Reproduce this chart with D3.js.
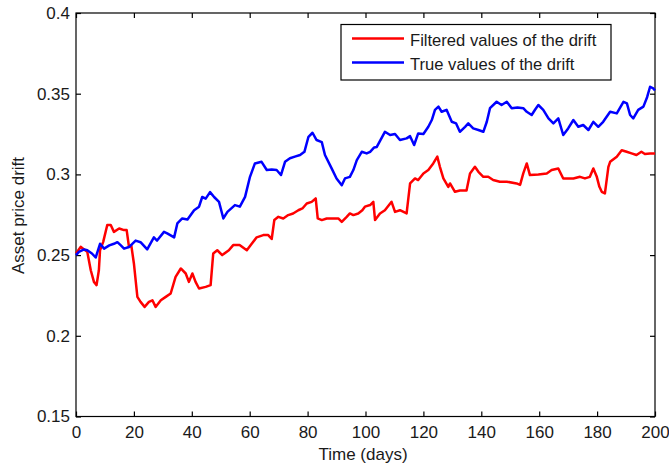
<!DOCTYPE html>
<html>
<head>
<meta charset="utf-8">
<script src="https://cdn.jsdelivr.net/npm/d3@7"></script>
<style>
  html, body { margin: 0; padding: 0; background: #fff; }
  svg { display: block; font-family: "Liberation Sans", Arial, sans-serif; }
</style>
</head>
<body>
<svg id="chart" width="669" height="470"></svg>
<script>
// ---- data ----
const xTicks = [0, 20, 40, 60, 80, 100, 120, 140, 160, 180, 200];
const yTicks = [0.15, 0.2, 0.25, 0.3, 0.35, 0.4];
const seriesNames = ["Filtered values of the drift", "True values of the drift"];
const xLabel = "Time (days)";
const yLabel = "Asset price drift";

const trueDays = [0,1,2.8,3.9,5.5,6.8,8.3,9.7,11.5,13.1,14.3,15.5,16.6,18.3,20.6,22.3,24.6,26.9,28,30.4,31.5,33.9,35,36.7,38.5,40.8,42.5,43.6,44.8,46.3,47.7,49.4,50.9,52.3,54.9,56.6,58.4,60.1,61.8,64.1,65.9,67.6,69.3,70.8,72.2,73.9,75.6,77.4,78.9,80.3,81.7,83.1,84.9,86,88.3,90,91.8,92.9,94.6,95.8,97,98.7,100.4,101.6,103,103.9,106.7,108.5,110.2,111.9,114.2,115.4,116.8,118.2,120,121.7,122.9,124,125.2,126.3,128,129.8,131.3,132.6,134.4,135.5,137.2,139,140.7,141.9,143,145.3,147,148.8,150.5,152.5,154.5,155.7,157.4,158.5,159.7,161.4,163.2,164.9,166.6,168.3,170,171.8,173.5,175.2,177,178.7,180.4,182.1,184.5,186.8,189.1,190.3,191.4,192.5,194.2,196,197.3,198.3,199.4,200];
const trueVals = [0.250,0.252,0.2535,0.253,0.251,0.2485,0.257,0.254,0.256,0.257,0.258,0.256,0.254,0.255,0.259,0.258,0.2535,0.261,0.259,0.2644,0.2635,0.261,0.2696,0.2727,0.272,0.2778,0.280,0.286,0.285,0.289,0.286,0.283,0.2727,0.2768,0.281,0.280,0.2861,0.2985,0.3068,0.3078,0.3027,0.303,0.3027,0.2996,0.3078,0.310,0.311,0.312,0.314,0.3233,0.3258,0.3213,0.320,0.312,0.3037,0.2975,0.2933,0.2975,0.2985,0.3027,0.3089,0.314,0.313,0.314,0.3167,0.317,0.3264,0.3244,0.325,0.3213,0.3223,0.3237,0.3182,0.3254,0.325,0.3295,0.3337,0.340,0.342,0.3388,0.340,0.3326,0.3316,0.3264,0.3295,0.3316,0.3285,0.3275,0.3264,0.3326,0.341,0.345,0.343,0.345,0.341,0.3415,0.341,0.3388,0.3368,0.3399,0.343,0.340,0.3347,0.3316,0.3347,0.3244,0.3285,0.3337,0.3295,0.3306,0.3275,0.3326,0.3295,0.3326,0.3388,0.3378,0.345,0.344,0.3368,0.3347,0.340,0.342,0.348,0.3543,0.3533,0.352];

const filtDays = [0,1.6,2.8,3.9,5.1,6.2,7.1,7.9,8.3,9.4,10.8,12,13.1,14.9,16.6,17.5,18.3,19.1,20,21.2,22.3,23.7,25.2,26.4,27.5,29.3,31,32.7,34.4,36.2,37.9,39,40.2,41.3,42.5,44.8,46.5,47.4,48.8,50.5,52.8,54.3,56.5,59,60.5,62.4,64.7,66.4,67.6,68.5,69.9,71.6,73.3,75,76.8,78.2,79.7,81.4,82.8,83.5,84.9,86.6,88.3,90.6,91.8,93.5,94.6,95.8,97.5,98.9,99.8,101.6,102.7,103.3,105,106.7,109,110.2,111.9,114.2,115.4,117.1,118.2,120,121.7,123.4,124.8,125.7,126.9,128.6,129.2,130.9,132.6,134.9,136.1,137.8,139,140.7,142.4,144.1,146.4,148.8,152.2,153.4,154.5,155.7,156.8,159.7,162.6,164.3,166.6,168.3,171.8,174.1,175.8,177.5,178.7,179.9,180.8,181.6,182.7,183.9,184.5,186.8,188.5,190.2,191.9,193.6,195.3,196.5,198.3,200];
const filtVals = [0.251,0.2551,0.2535,0.252,0.2406,0.2334,0.2314,0.2406,0.253,0.2582,0.2686,0.2686,0.2644,0.2665,0.2655,0.2655,0.2551,0.256,0.2448,0.2241,0.221,0.2179,0.221,0.222,0.2179,0.222,0.2241,0.2262,0.2365,0.2417,0.2386,0.2334,0.2386,0.2334,0.2293,0.2303,0.2314,0.251,0.253,0.250,0.253,0.2562,0.2562,0.253,0.2565,0.261,0.2624,0.2624,0.260,0.2717,0.2737,0.2727,0.2748,0.2758,0.2778,0.2789,0.282,0.283,0.2851,0.2727,0.2717,0.2727,0.2727,0.2727,0.2706,0.2737,0.2758,0.2748,0.2758,0.2778,0.280,0.281,0.283,0.2717,0.2758,0.2778,0.283,0.2768,0.2778,0.2758,0.2944,0.2975,0.2965,0.3006,0.3027,0.3068,0.311,0.3047,0.2975,0.2923,0.2944,0.2892,0.290,0.290,0.3006,0.3047,0.3016,0.2985,0.2985,0.2965,0.2955,0.2955,0.2944,0.2935,0.3006,0.3068,0.2996,0.300,0.3006,0.3027,0.3037,0.2975,0.2975,0.2985,0.2975,0.2985,0.3037,0.2985,0.2923,0.2892,0.2882,0.3047,0.3078,0.311,0.315,0.314,0.313,0.312,0.314,0.3126,0.313,0.313];

// ---- chart ----
const svg = d3.select("#chart");
const mLeft = 76, mRight = 655, mTop = 13, mBottom = 416.5;
const x = d3.scaleLinear().domain([0, 200]).range([mLeft, mRight]);
const y = d3.scaleLinear().domain([0.15, 0.4]).range([mBottom, mTop]);
const textColor = "#1a1a1a";
const fontSize = "17px";

// frame
svg.append("rect")
  .attr("x", mLeft).attr("y", mTop)
  .attr("width", mRight - mLeft).attr("height", mBottom - mTop)
  .attr("fill", "#fff").attr("stroke", "#000").attr("stroke-width", 1.2);

function styleAxis(g) {
  g.select(".domain").remove();
  g.selectAll(".tick line").attr("stroke", "#000").attr("stroke-width", 1.2);
  g.selectAll(".tick text").attr("fill", textColor).style("font-size", fontSize)
    .style("font-family", '"Liberation Sans", Arial, sans-serif');
}

// bottom axis
svg.append("g").attr("transform", `translate(0,${mBottom})`)
  .call(d3.axisBottom(x).tickValues(xTicks).tickSizeInner(-5).tickSizeOuter(0).tickPadding(9).tickFormat(d3.format("d")))
  .call(styleAxis);
// top axis (ticks only)
svg.append("g").attr("transform", `translate(0,${mTop})`)
  .call(d3.axisTop(x).tickValues(xTicks).tickSizeInner(-5).tickSizeOuter(0).tickFormat(""))
  .call(styleAxis);
// left axis
svg.append("g").attr("transform", `translate(${mLeft},0)`)
  .call(d3.axisLeft(y).tickValues(yTicks).tickSizeInner(-5).tickSizeOuter(0).tickPadding(6).tickFormat(d => String(+d.toFixed(2))))
  .call(styleAxis);
// right axis (ticks only)
svg.append("g").attr("transform", `translate(${mRight},0)`)
  .call(d3.axisRight(y).tickValues(yTicks).tickSizeInner(-5).tickSizeOuter(0).tickFormat(""))
  .call(styleAxis);

// lines
const line = d3.line().x(d => x(d[0])).y(d => y(d[1]));
const filtData = filtDays.map((d, i) => [d, filtVals[i]]);
const trueData = trueDays.map((d, i) => [d, trueVals[i]]);

svg.append("path").datum(filtData).attr("d", line)
  .attr("fill", "none").attr("stroke", "#ff0000").attr("stroke-width", 2.5).attr("stroke-linejoin", "round");
svg.append("path").datum(trueData).attr("d", line)
  .attr("fill", "none").attr("stroke", "#0000ff").attr("stroke-width", 2.5).attr("stroke-linejoin", "round");

// axis labels
svg.append("text").attr("x", 363).attr("y", 460).attr("text-anchor", "middle")
  .attr("fill", textColor).style("font-size", fontSize).text(xLabel);
svg.append("text").attr("transform", "translate(24,215.5) rotate(-90)").attr("text-anchor", "middle")
  .attr("fill", textColor).style("font-size", fontSize).text(yLabel);

// legend
const legend = svg.append("g");
legend.append("rect").attr("x", 341).attr("y", 24.5).attr("width", 270).attr("height", 55.5)
  .attr("fill", "#fff").attr("stroke", "#000").attr("stroke-width", 1.2);
const legColors = ["#ff0000", "#0000ff"];
seriesNames.forEach((name, i) => {
  const ly = 38.5 + i * 24;
  legend.append("line").attr("x1", 352).attr("x2", 404).attr("y1", ly).attr("y2", ly)
    .attr("stroke", legColors[i]).attr("stroke-width", 2.5);
  legend.append("text").attr("x", 410).attr("y", ly + 7.5)
    .attr("fill", textColor).style("font-size", "16.6px").text(name);
});
</script>
</body>
</html>
